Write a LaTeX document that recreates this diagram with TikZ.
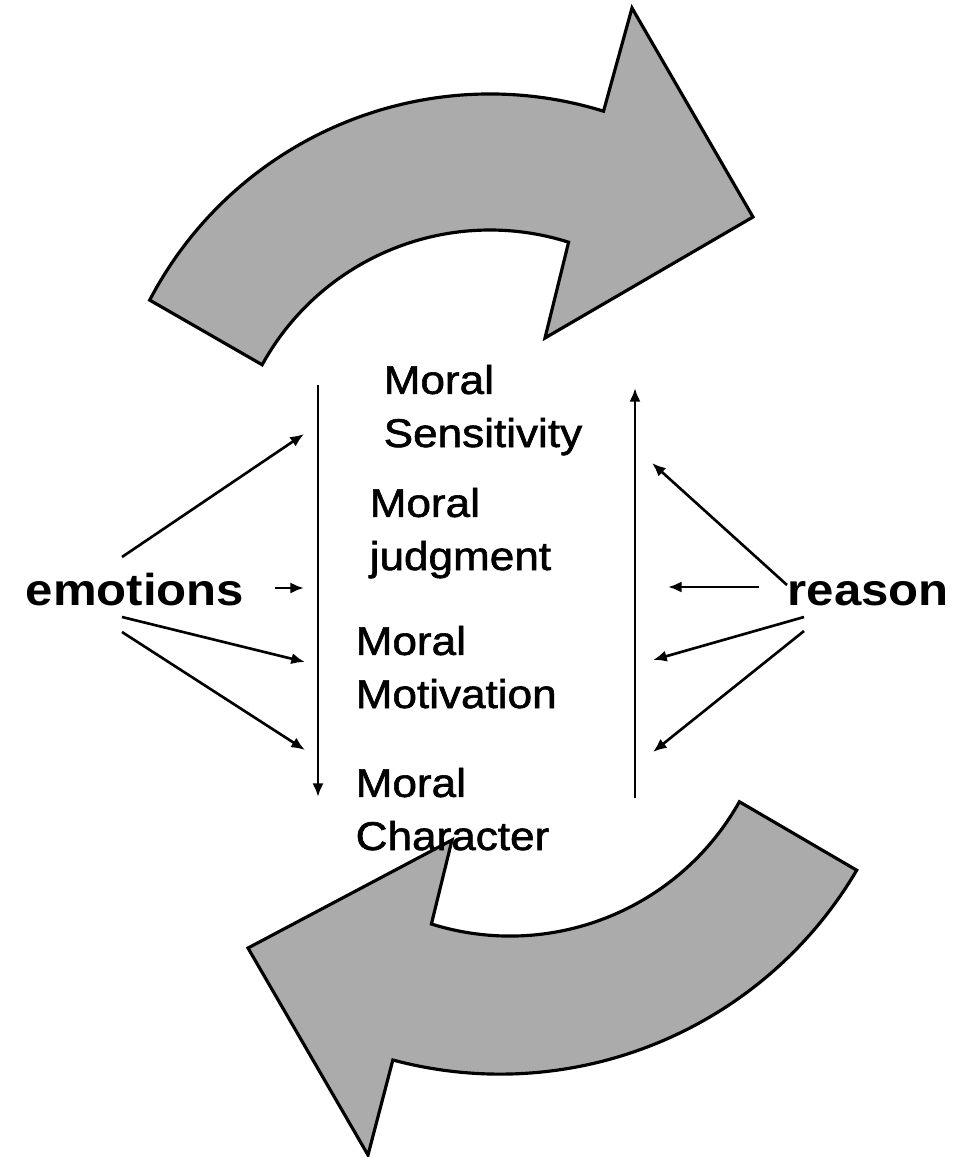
\documentclass[tikz,border=0pt]{standalone}
\usepackage{fontspec}
\setmainfont{Liberation Sans}[FakeStretch=1.1]
\newfontfamily\stagefont{Liberation Sans}[FakeStretch=1.1, FakeBold=1.5]
\usetikzlibrary{arrows.meta}

\begin{document}
\begin{tikzpicture}[x=0.01cm, y=0.01cm, >={Latex[length=3.9pt,width=3.2pt]},
  bigarrow/.style={draw=black, line width=0.9pt, fill=black!33, line join=miter},
  stage/.style={anchor=base west, inner sep=0pt, align=left,
    font=\stagefont\fontsize{11.4pt}{15.1pt}\selectfont},
  side/.style={anchor=base west, inner sep=0pt,
    font=\fontsize{12.7pt}{15pt}\selectfont\bfseries},
  link/.style={->, line width=0.75pt}]
  \useasboundingbox (0,0) rectangle (972,-1157);
  % Upper cycle arrow
  \draw[bigarrow] (149.7,-300.1) arc[start angle=152.4, end angle=72.8, radius=384]
    -- (632,-8) -- (753,-217) -- (545,-338) -- (568.6,-242.2)
    arc[start angle=72.4, end angle=151.2, radius=260] -- cycle;
  % Lower cycle arrow
  \draw[bigarrow] (856.7,-870.2) arc[start angle=-30.5, end angle=-105, radius=414]
    -- (368,-1155) -- (248,-948) -- (452,-840) -- (431.4,-924)
    arc[start angle=-107.4, end angle=-29.3, radius=263] -- cycle;
  % Four components (base = last line)
  \node[stage] (sens) at (383,-447) {Moral\\Sensitivity};
  \node[stage] (judg) at (369,-570) {Moral\\judgment};
  \node[stage] (motiv) at (355,-708) {Moral\\Motivation};
  \node[stage] (chara) at (355,-850) {Moral\\Character};
  % Side inputs
  \node[side] (emo) at (25,-605) {emotions};
  \node[side] (reas) at (787,-605) {reason};
  % Down and up lines
  \coordinate (dtop) at (318,-385);
  \coordinate (dbot) at (318,-797);
  \coordinate (utop) at (635,-388);
  \coordinate (ubot) at (635,-798);
  \draw[link] (dtop) -- (dbot);
  \draw[link] (ubot) -- (utop);
  % Emotions arrows
  \coordinate (es1) at (122,-557);
  \coordinate (es2) at (275,-588);
  \coordinate (es3) at (122,-617);
  \coordinate (es4) at (122,-632);
  \coordinate (ee1) at (304,-434);
  \coordinate (ee2) at (304,-588);
  \coordinate (ee3) at (305,-662);
  \coordinate (ee4) at (305,-750);
  % Reason arrows
  \coordinate (rs1) at (787,-585);
  \coordinate (rs2) at (759,-587);
  \coordinate (rs3) at (804,-617);
  \coordinate (rs4) at (804,-631);
  \coordinate (re1) at (652,-463);
  \coordinate (re2) at (668,-587);
  \coordinate (re3) at (653,-660);
  \coordinate (re4) at (653,-752);
  \foreach \i in {1,...,4} {
    \draw[link] (es\i) -- (ee\i);
    \draw[link] (rs\i) -- (re\i);
  }
\end{tikzpicture}
\end{document}
